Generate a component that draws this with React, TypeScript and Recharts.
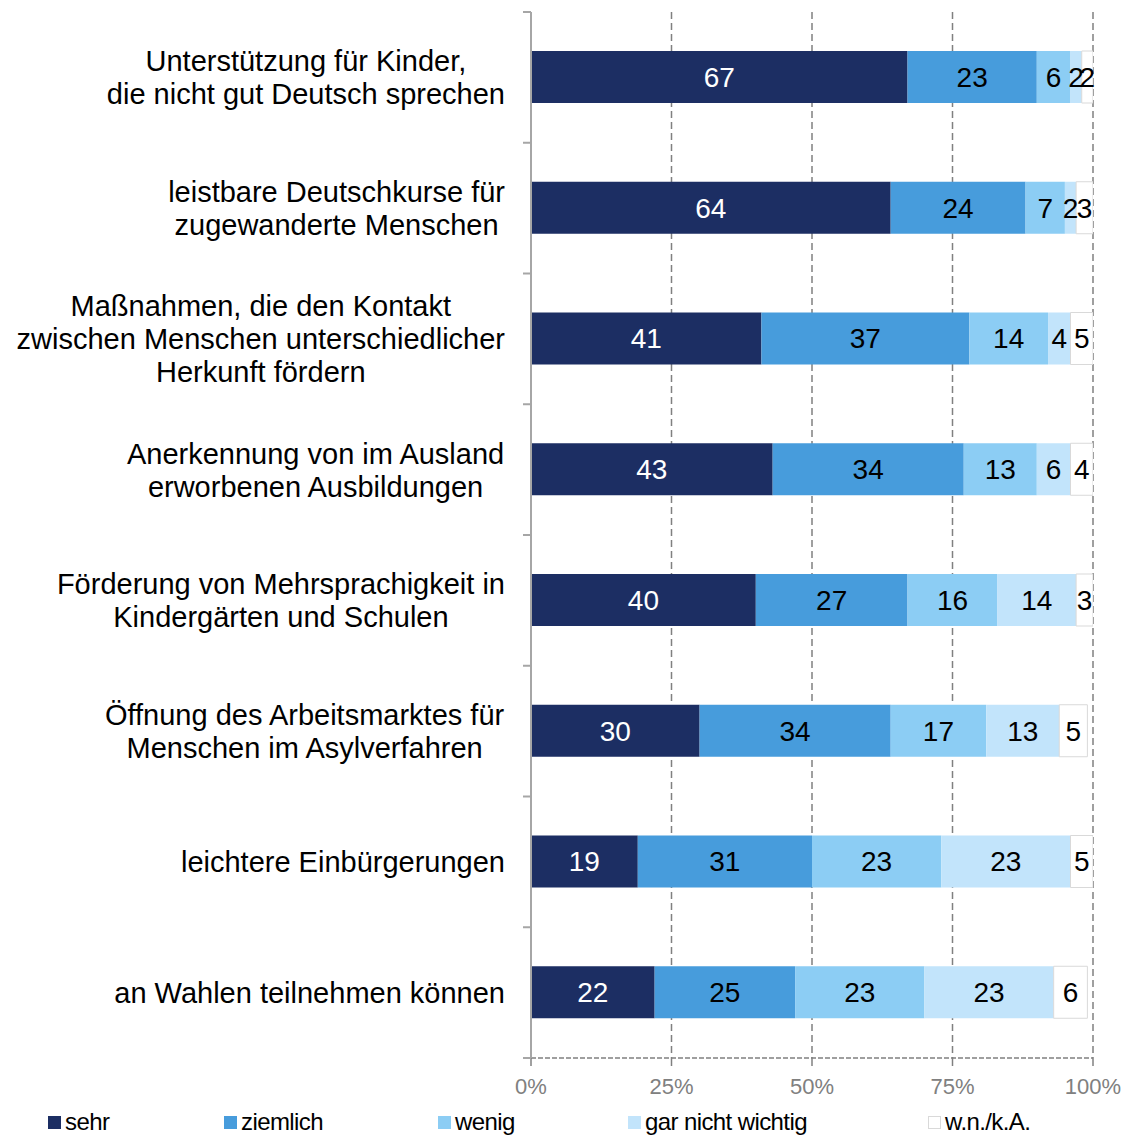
import React from 'react';
import { BarChart, Bar, XAxis, YAxis, CartesianGrid, LabelList } from 'recharts';

const categories = [
  'Unterstützung für Kinder,\ndie nicht gut Deutsch sprechen',
  'leistbare Deutschkurse für\nzugewanderte Menschen',
  'Maßnahmen, die den Kontakt\nzwischen Menschen unterschiedlicher\nHerkunft fördern',
  'Anerkennung von im Ausland\nerworbenen Ausbildungen',
  'Förderung von Mehrsprachigkeit in\nKindergärten und Schulen',
  'Öffnung des Arbeitsmarktes für\nMenschen im Asylverfahren',
  'leichtere Einbürgerungen',
  'an Wahlen teilnehmen können',
];

const sehr = [67, 64, 41, 43, 40, 30, 19, 22];
const ziemlich = [23, 24, 37, 34, 27, 34, 31, 25];
const wenig = [6, 7, 14, 13, 16, 17, 23, 23];
const garNicht = [2, 2, 4, 6, 14, 13, 23, 23];
const wnka = [2, 3, 5, 4, 3, 5, 5, 6];

const xTicks = [0, 25, 50, 75, 100];

const series = [
  { key: 'sehr', name: 'sehr', values: sehr, color: '#1c2e63', text: '#ffffff' },
  { key: 'ziemlich', name: 'ziemlich', values: ziemlich, color: '#479cdc', text: '#000000' },
  { key: 'wenig', name: 'wenig', values: wenig, color: '#8ccdf4', text: '#000000' },
  { key: 'garNicht', name: 'gar nicht wichtig', values: garNicht, color: '#c2e4fb', text: '#000000' },
  { key: 'wnka', name: 'w.n./k.A.', values: wnka, color: '#ffffff', text: '#000000' },
];

const data = categories.map((c, i) => {
  const row: Record<string, string | number> = { name: c };
  series.forEach(s => { row[s.key] = s.values[i]; });
  return row;
});

const FONT = '"Liberation Sans", Arial, sans-serif';
const LABEL_SIZE = 29;

let ctx: CanvasRenderingContext2D | null = null;
const measure = (t: string) => {
  if (!ctx) ctx = document.createElement('canvas').getContext('2d');
  if (!ctx) return t.length * LABEL_SIZE * 0.5;
  ctx.font = `${LABEL_SIZE}px ${FONT}`;
  return ctx.measureText(t).width;
};

const BAND = (1058 - 12) / categories.length;

// x here is the tick anchor: axis line sits 8px to the right of it
const CategoryTick = (props: any) => {
  const { x, y, payload, index } = props;
  const axisX = x + 8;
  const lines = String(payload.value).split('\n');
  const w = Math.max(...lines.map(measure));
  const right = axisX - 26;
  const cx = right - w / 2;
  return (
    <g>
      <line x1={axisX - 8} x2={axisX} y1={y - BAND / 2} y2={y - BAND / 2} stroke="#a6a6a6" strokeWidth={2} />
      {index === categories.length - 1 && (
        <line x1={axisX - 8} x2={axisX} y1={y + BAND / 2} y2={y + BAND / 2} stroke="#a6a6a6" strokeWidth={2} />
      )}
      {lines.map((l, i) => (
        <text
          key={i}
          x={cx}
          y={y + (i - (lines.length - 1) / 2) * 33}
          dy="0.36em"
          textAnchor="middle"
          fontSize={LABEL_SIZE}
          fontFamily={FONT}
          fill="#000"
        >
          {l}
        </text>
      ))}
    </g>
  );
};

const legendOffsets = [48, 224, 438, 628, 928];

export default function App() {
  return (
    <div style={{ position: 'absolute', left: 0, top: 0, width: 1132, height: 1135, background: '#fff' }}>
      <BarChart
        width={1132}
        height={1135}
        data={data}
        layout="vertical"
        margin={{ top: 12, right: 39, bottom: 37, left: 0 }}
        barSize={52}
      >
        <CartesianGrid horizontal={false} stroke="#808080" strokeDasharray="7 4" strokeWidth={1.5} />
        <XAxis
          type="number"
          domain={[0, 100]}
          ticks={xTicks}
          allowDataOverflow
          height={40}
          tickFormatter={(v: number) => `${v}%`}
          axisLine={{ stroke: '#808080', strokeDasharray: '5 2', strokeWidth: 1.5 }}
          tickLine={{ stroke: '#808080', strokeWidth: 1.5 }}
          tickSize={8}
          tickMargin={12}
          tick={{ fill: '#808080', fontSize: 22, fontFamily: FONT }}
        />
        <YAxis
          type="category"
          dataKey="name"
          width={531}
          axisLine={{ stroke: '#a6a6a6', strokeWidth: 2 }}
          tickLine={false}
          tick={<CategoryTick />}
          interval={0}
        />
        {series.map(s => (
          <Bar
            key={s.key}
            dataKey={s.key}
            stackId="a"
            fill={s.color}
            stroke={s.key === 'wnka' ? '#d9d9d9' : 'none'}
            isAnimationActive={false}
          >
            <LabelList
              dataKey={s.key}
              position="center"
              fill={s.text}
              fontSize={28}
              fontFamily={FONT}
            />
          </Bar>
        ))}
      </BarChart>
      <div style={{ position: 'absolute', top: 1108, left: 0, width: 1132, height: 27, fontFamily: FONT, fontSize: 24 }}>
        {series.map((s, i) => (
          <div key={s.key} style={{ position: 'absolute', left: legendOffsets[i], top: 0, display: 'flex', alignItems: 'center', color: '#000', letterSpacing: -0.6 }}>
            <span
              style={{
                display: 'inline-block',
                width: 13,
                height: 13,
                background: s.color,
                border: s.key === 'wnka' ? '1px solid #d9d9d9' : 'none',
                boxSizing: 'border-box',
                marginRight: 4,
              }}
            />
            {s.name}
          </div>
        ))}
      </div>
    </div>
  );
}
